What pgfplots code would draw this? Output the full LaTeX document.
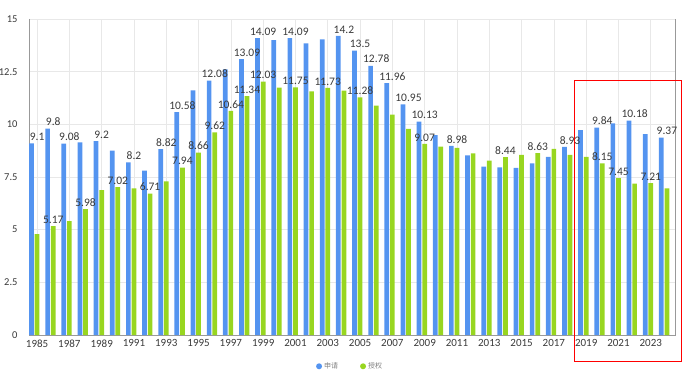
\documentclass[border=0pt]{standalone}
\usepackage{pgfplots}
\pgfplotsset{compat=1.18}
\usepackage{fontspec}
\setmainfont{Carlito}
\newfontfamily\cjk{Noto Sans CJK SC}
\definecolor{cblue}{RGB}{84,148,240}
\definecolor{cgreen}{RGB}{152,214,32}
\definecolor{ctext}{RGB}{58,58,58}
\definecolor{cgrid}{RGB}{232,232,232}
\begin{document}
\begin{tikzpicture}
\path[use as bounding box] (-29bp,-40bp) rectangle (662bp,335bp);
\begin{axis}[
  at={(0,0)}, anchor=south west,
  scale only axis, width=646bp, height=316bp,
  xmin=1984.5, xmax=2024.5, ymin=0, ymax=15,
  clip=false,
  xtick={1985,1987,...,2023},
  ytick={0,2.5,...,15},
  major tick length=0pt,
  grid=major, grid style={cgrid, line width=0.6bp},
  axis line style={draw=none},
  /pgf/number format/assume math mode=true,
  xticklabel style={/pgf/number format/1000 sep=, font=\fontsize{11bp}{12bp}\selectfont, text=ctext, yshift=-1bp},
  yticklabel style={font=\fontsize{10.5bp}{12bp}\selectfont, text=ctext, xshift=-8bp},
  point meta=explicit symbolic,
  nodes near coords={\pgfplotspointmeta},
  every node near coord/.append style={font=\fontsize{11.5bp}{12bp}\selectfont, text=ctext, inner sep=2.5bp},
  legend style={at={(0.497,-0.099)}, anchor=center, draw=none, fill=none,
    legend columns=2, font=\cjk\fontsize{7bp}{8bp}\selectfont, text=gray,
    /tikz/every even column/.append style={column sep=20bp}},
  legend cell align=left,
]
\draw[gray!80, line width=0.8bp] (rel axis cs:0,1) -- (rel axis cs:0,0) -- (rel axis cs:1,0) -- (rel axis cs:1,1);
\addplot[ybar, bar width=4.7bp, bar shift=-5.6bp, fill=cblue, draw=none,
  legend image code/.code={\fill[cblue] (0bp,0bp) circle (3bp);}]
coordinates {
(1985,9.1) [9.1] (1986,9.8) [9.8] (1987,9.08) [9.08] (1988,9.14) [] (1989,9.2) [9.2]
(1990,8.75) [] (1991,8.2) [8.2] (1992,7.8) [] (1993,8.82) [8.82] (1994,10.58) [10.58]
(1995,11.61) [] (1996,12.08) [12.08] (1997,12.61) [] (1998,13.09) [13.09] (1999,14.09) [14.09]
(2000,14.0) [] (2001,14.09) [14.09] (2002,13.84) [] (2003,14.03) [] (2004,14.2) [14.2]
(2005,13.5) [13.5] (2006,12.78) [12.78] (2007,11.96) [11.96] (2008,10.95) [10.95] (2009,10.13) [10.13]
(2010,9.49) [] (2011,8.98) [8.98] (2012,8.53) [] (2013,7.99) [] (2014,7.96) []
(2015,7.93) [] (2016,8.15) [] (2017,8.45) [] (2018,8.93) [8.93] (2019,9.73) []
(2020,9.84) [9.84] (2021,10.05) [] (2022,10.18) [10.18] (2023,9.54) [] (2024,9.37) [9.37]
};
\addlegendentry{申请}
\addplot[ybar, bar width=4.7bp, bar shift=0bp, fill=cgreen, draw=none,
  legend image code/.code={\fill[cgreen] (0bp,0bp) circle (3bp);}]
coordinates {
(1985,4.79) [] (1986,5.17) [5.17] (1987,5.41) [] (1988,5.98) [5.98] (1989,6.88) []
(1990,7.02) [7.02] (1991,6.96) [] (1992,6.71) [6.71] (1993,7.29) [] (1994,7.94) [7.94]
(1995,8.66) [8.66] (1996,9.62) [9.62] (1997,10.64) [10.64] (1998,11.34) [11.34] (1999,12.03) [12.03]
(2000,11.74) [] (2001,11.75) [11.75] (2002,11.57) [] (2003,11.73) [11.73] (2004,11.6) []
(2005,11.28) [11.28] (2006,10.89) [] (2007,10.46) [] (2008,9.78) [] (2009,9.07) [9.07]
(2010,8.94) [] (2011,8.88) [] (2012,8.62) [] (2013,8.28) [] (2014,8.44) [8.44]
(2015,8.55) [] (2016,8.63) [8.63] (2017,8.84) [] (2018,8.55) [] (2019,8.45) []
(2020,8.15) [8.15] (2021,7.45) [7.45] (2022,7.18) [] (2023,7.21) [7.21] (2024,6.96) []
};
\addlegendentry{授权}
\draw[red, line width=1bp] (axis cs:2018.25,12.1) rectangle (axis cs:2024.93,-1.28);
\end{axis}
\end{tikzpicture}
\end{document}
